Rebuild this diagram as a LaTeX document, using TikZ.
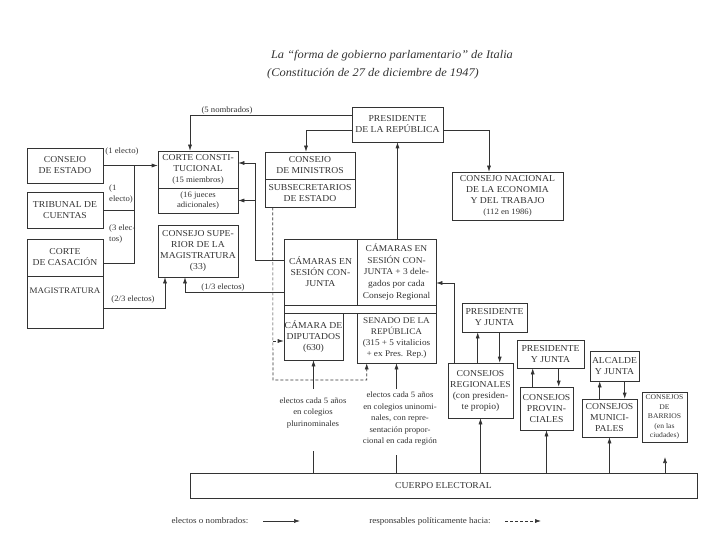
\documentclass[tikz,border=0pt]{standalone}
\usepackage{fontspec}
\setmainfont[FakeStretch=1.06]{Liberation Serif}
\usetikzlibrary{arrows.meta}
\definecolor{ink}{gray}{0.2}
\newcommand\bfnt{\fontsize{9.1}{11}\selectfont}
\newcommand\sfnt{\fontsize{8.2}{11.5}\selectfont}
\tikzset{
 box/.style={draw=ink, line width=0.6pt, align=center, inner sep=0.5pt, text=ink, font=\bfnt},
 arr/.style={draw=ink, line width=0.6pt, -{Latex[length=6pt,width=4pt]}},
 ln/.style={draw=ink, line width=0.6pt},
 dsh/.style={dash pattern=on 3pt off 2pt},
 lbl/.style={text=ink, font=\sfnt, inner sep=1pt},
}
\begin{document}
\begin{tikzpicture}[x=1pt,y=-1pt]
\useasboundingbox (0,0) rectangle (720,540);
% title
\node[text=ink,font=\fontsize{11.7}{14}\selectfont\itshape] (t1) at (392,56) {La “forma de gobierno parlamentario” de Italia};
\node[text=ink,font=\fontsize{11.7}{14}\selectfont\itshape] (t2) at (373,74) {(Constitución de 27 de diciembre de 1947)};
% boxes
\node[box, minimum width=91, minimum height=35] (pres) at (397.5,124.5) {PRESIDENTE\\DE LA REPÚBLICA};
\node[box, minimum width=76, minimum height=35] (cest) at (65,165.5) {CONSEJO\\DE ESTADO};
\node[box, minimum width=76, minimum height=36] (trib) at (65,210) {TRIBUNAL DE\\CUENTAS};
\node[box, minimum width=76, minimum height=37] (ccas) at (65,257.5) {CORTE\\DE CASACIÓN};
\node[box, minimum width=76, minimum height=52] (mag) at (65,302) {};
\node[text=ink, font=\fontsize{8.5}{11}\selectfont, inner sep=0.5pt] (magt) at (65,291) {MAGISTRATURA};
\node[box, minimum width=80, minimum height=37] (cc) at (198,169.5) {CORTE CONSTI-\\TUCIONAL\\{\sfnt (15 miembros)}};
\node[box, minimum width=80, minimum height=25, font=\fontsize{8.2}{10}\selectfont] (ccb) at (198,200.5) {(16 jueces\\adicionales)};
\node[box, minimum width=80, minimum height=52] (csm) at (198,251) {CONSEJO SUPE-\\RIOR DE LA\\MAGISTRATURA\\(33)};
\node[box, minimum width=90, minimum height=27] (cmin) at (310,165.5) {CONSEJO\\DE MINISTROS};
\node[box, minimum width=90, minimum height=28] (subs) at (310,193) {SUBSECRETARIOS\\DE ESTADO};
\node[box, minimum width=111, minimum height=48] (cnel) at (507.5,196) {CONSEJO NACIONAL\\DE LA ECONOMIA\\Y DEL TRABAJO\\{\sfnt (112 en 1986)}};
\node[box, minimum width=152, minimum height=74] (cjo) at (360,276) {};
\node[box, minimum width=73, minimum height=66] (cj1) at (320.5,272) {CÁMARAS EN\\SESIÓN CON-\\JUNTA};
\node[box, minimum width=79, minimum height=66, font=\fontsize{8.9}{11.6}\selectfont] (cj2) at (396.5,272) {CÁMARAS EN\\SESIÓN CON-\\JUNTA + 3 dele-\\gados por cada\\Consejo Regional};
\node[box, minimum width=59, minimum height=47] (dip) at (313.5,336.5) {CÁMARA DE\\DIPUTADOS\\(630)};
\node[box, minimum width=79, minimum height=50, font=\fontsize{8.7}{11.2}\selectfont] (sen) at (396.5,338) {SENADO DE LA\\REPÚBLICA\\(315 + 5 vitalicios\\+ ex Pres. Rep.)};
\node[box, minimum width=65, minimum height=29] (pj1) at (494.5,317.5) {PRESIDENTE\\Y JUNTA};
\node[box, minimum width=65, minimum height=55] (creg) at (480.5,390.5) {CONSEJOS\\REGIONALES\\(con presiden-\\te propio)};
\node[box, minimum width=67, minimum height=28] (pj2) at (550.5,354) {PRESIDENTE\\Y JUNTA};
\node[box, minimum width=53, minimum height=43] (cprov) at (546.5,408.5) {CONSEJOS\\PROVIN-\\CIALES};
\node[box, minimum width=49, minimum height=30] (alc) at (614.5,366) {ALCALDE\\Y JUNTA};
\node[box, minimum width=55, minimum height=38] (cmun) at (609.5,418) {CONSEJOS\\MUNICI-\\PALES};
\node[box, minimum width=45, minimum height=50, font=\fontsize{7.2}{9.6}\selectfont] (cbar) at (664.5,417) {CONSEJOS\\DE\\BARRIOS\\(en las\\ciudades)};
\node[box, minimum width=507, minimum height=25] (ce) at (443.5,485.5) {CUERPO ELECTORAL};
% labels
\node[lbl] (l5n) at (227,111) {(5 nombrados)};
\node[lbl] (l1e) at (122,152) {(1 electo)};
\node[lbl, align=left, anchor=west] (l1e2) at (108,194) {(1\\electo)};
\node[lbl, align=left, anchor=west] (l3e) at (108,234) {(3 elec-\\tos)};
\node[lbl] (l23) at (133,300) {(2/3 electos)};
\node[lbl] (l13) at (223,288) {(1/3 electos)};
\node[lbl, align=center, fill=white] (tdip) at (313,413) {electos cada 5 años\\en colegios\\plurinominales};
\node[lbl, align=center, fill=white] (tsen) at (400,419) {electos cada 5 años\\en colegios uninomi-\\nales, con repre-\\sentación propor-\\cional en cada región};
% connectors from the president
\draw[arr] ([yshift=9.5pt]pres.west) -| ([xshift=-8pt]cc.north);
\draw[arr] ([yshift=-5.5pt]pres.west) -| ([xshift=-4pt]cmin.north);
\draw[arr] ([yshift=-5.5pt]pres.east) -| ([xshift=-18.5pt]cnel.north);
\draw[arr] (pres.south |- cjo.north) -- (pres.south);
% left side
\draw[arr] (cest.east) -- (cest.east -| cc.west);
\coordinate (bus) at (134,165.5);
\draw[ln] (bus) |- ([yshift=-5.5pt]ccas.east);
\draw[ln] (trib.east) -- (trib.east -| bus);
\draw[arr] ([yshift=-6pt]mag.east) -| ([xshift=-33pt]csm.south);
\draw[arr] ([yshift=-20pt]cj1.west) -| ([xshift=-13pt]csm.south);
\coordinate (k1) at (255,163);
\draw[arr] ([yshift=12pt]cj1.west) -| (k1) -- (k1 -| cc.east);
\draw[arr] (k1 |- ccb.east) -- (ccb.east);
% dashed responsibility
\coordinate (d0) at (273,380);
\draw[arr,dsh] ([xshift=8pt]subs.south west) -- (d0) -| ([xshift=10pt]sen.south west);
\coordinate (d2) at (273,341);
\draw[arr,dsh] (d2) -- (d2 -| dip.west);
% electorate
\coordinate (a1) at (313.5,389); \coordinate (b1) at (313.5,451);
\draw[ln] (b1 |- ce.north) -- (b1);
\draw[arr] (a1) -- (a1 |- dip.south);
\coordinate (a2) at (396.5,389); \coordinate (b2) at (396.5,455);
\draw[ln] (b2 |- ce.north) -- (b2);
\draw[arr] (a2) -- (a2 |- sen.south);
\draw[arr] (creg.south |- ce.north) -- (creg.south);
\draw[arr] (cprov.south |- ce.north) -- (cprov.south);
\draw[arr] (cmun.south |- ce.north) -- (cmun.south);
\coordinate (bt) at (665,457);
\draw[arr] (bt |- ce.north) -- (bt);
% regions
\draw[arr] ([xshift=7pt]creg.north west) |- ([yshift=-11pt]cj2.east);
\coordinate (u1) at ([xshift=30pt]creg.north west);
\coordinate (v1) at ([xshift=38pt]pj1.south west);
\draw[arr] (u1) -- (u1 |- pj1.south);
\draw[arr] (v1) -- (v1 |- creg.north);
\coordinate (u2) at ([xshift=13pt]cprov.north west);
\coordinate (v2) at ([xshift=42pt]pj2.south west);
\draw[arr] (u2) -- (u2 |- pj2.south);
\draw[arr] (v2) -- (v2 |- cprov.north);
\coordinate (u3) at ([xshift=18pt]cmun.north west);
\coordinate (v3) at ([xshift=35pt]alc.south west);
\draw[arr] (u3) -- (u3 |- alc.south);
\draw[arr] (v3) -- (v3 |- cmun.north);
% legend
\node[lbl, font=\fontsize{8.5}{10}\selectfont] (leg1) at (210,521) {electos o nombrados:};
\coordinate (la) at (263,521); \coordinate (lb) at (300,521);
\draw[arr] (la) -- (lb);
\node[lbl, font=\fontsize{8.5}{10}\selectfont] (leg2) at (430,521) {responsables políticamente hacia:};
\coordinate (lc) at (505,521); \coordinate (ld) at (541,521);
\draw[arr,dsh] (lc) -- (ld);
\end{tikzpicture}
\end{document}
